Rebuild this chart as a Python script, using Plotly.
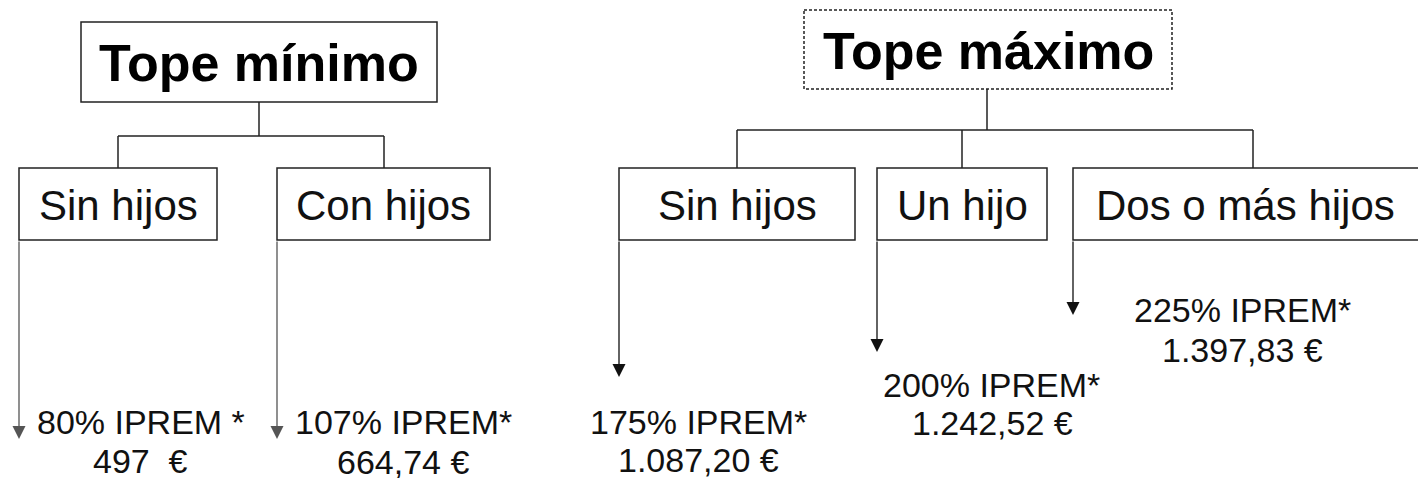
import plotly.graph_objects as go

# ---- content ----
group_titles = ["Tope mínimo", "Tope máximo"]
left_categories = ["Sin hijos", "Con hijos"]
right_categories = ["Sin hijos", "Un hijo", "Dos o más hijos"]
left_percent = ["80% IPREM *", "107% IPREM*"]
left_amount = ["497\u00a0 €", "664,74 €"]
right_percent = ["175% IPREM*", "200% IPREM*", "225% IPREM*"]
right_amount = ["1.087,20 €", "1.242,52 €", "1.397,83 €"]

# ---- layout geometry (pixel-like canvas) ----
W, H = 1418, 478
root_boxes = [(81, 22, 437, 102), (804, 10, 1172, 89)]
root_dash = ["solid", "3px,2px"]
child_top, child_bot = 168, 240
left_boxes_x = [(19, 217), (277, 490)]
right_boxes_x = [(619, 855), (877, 1047), (1073, 1433)]
bar_y = [136, 130]
stem_x = [259, 987]
left_child_cx = [118, 384]
right_child_cx = [737, 962, 1253]
left_tip_y = [439, 439]
right_tip_y = [377, 352, 315]
left_pct_pos = [(141, 422), (403, 422)]
left_amt_pos = [(140, 461), (403, 462)]
right_pct_pos = [(698, 422), (991, 385), (1242, 310)]
right_amt_pos = [(698, 460), (992, 423), (1242, 350)]

FONT = "Liberation Sans, Arial, sans-serif"
INK = "#111111"
LINE = "#222222"

fig = go.Figure()
shapes = []
ann = []

# root boxes + titles
for (x0, y0, x1, y1), dash, title in zip(root_boxes, root_dash, group_titles):
    shapes.append(dict(type="rect", xref="x", yref="y", x0=x0, y0=y0, x1=x1, y1=y1,
                       line=dict(color=LINE, width=1.5, dash=dash)))
    ann.append(dict(x=(x0 + x1) / 2, y=(y0 + y1) / 2 + 1, text=f"<b>{title}</b>",
                    showarrow=False, xanchor="center", yanchor="middle",
                    font=dict(family=FONT, size=52, color="#000")))

def tree(root, sx, by, cxs):
    x0, y0, x1, y1 = root
    shapes.append(dict(type="line", x0=sx, x1=sx, y0=y1, y1=by, line=dict(color=LINE, width=1.5)))
    shapes.append(dict(type="line", x0=min(cxs), x1=max(cxs), y0=by, y1=by, line=dict(color=LINE, width=1.5)))
    for c in cxs:
        shapes.append(dict(type="line", x0=c, x1=c, y0=by, y1=child_top, line=dict(color=LINE, width=1.5)))

tree(root_boxes[0], stem_x[0], bar_y[0], left_child_cx)
tree(root_boxes[1], stem_x[1], bar_y[1], right_child_cx)

def children(boxes, cats, tips, pct, pct_pos, amt, amt_pos, arrow_color):
    for (bx0, bx1), cat, tip, p, pp, a, ap in zip(boxes, cats, tips, pct, pct_pos, amt, amt_pos):
        shapes.append(dict(type="rect", x0=bx0, x1=bx1, y0=child_top, y1=child_bot,
                           line=dict(color=LINE, width=1.5)))
        tx = (bx0 + bx1) / 2 if bx1 <= W else (bx0 + bx1) / 2 - 8
        ann.append(dict(x=tx, y=(child_top + child_bot) / 2 + 1, text=cat, showarrow=False,
                        xanchor="center", yanchor="middle",
                        font=dict(family=FONT, size=42, color=INK)))
        ann.append(dict(x=bx0, y=tip, ax=bx0, ay=child_bot, axref="x", ayref="y",
                        xref="x", yref="y", text="", showarrow=True, arrowhead=2,
                        arrowsize=2.0, arrowwidth=1.3, arrowcolor=arrow_color))
        ann.append(dict(x=pp[0], y=pp[1], text=p, showarrow=False, xanchor="center",
                        yanchor="middle", font=dict(family=FONT, size=34, color=INK)))
        ann.append(dict(x=ap[0], y=ap[1], text=a, showarrow=False, xanchor="center",
                        yanchor="middle", font=dict(family=FONT, size=34, color=INK)))

children(left_boxes_x, left_categories, left_tip_y, left_percent, left_pct_pos,
         left_amount, left_amt_pos, "#555555")
children(right_boxes_x, right_categories, right_tip_y, right_percent, right_pct_pos,
         right_amount, right_amt_pos, "#111111")

fig.update_layout(
    width=W, height=H,
    margin=dict(l=0, r=0, t=0, b=0),
    paper_bgcolor="white", plot_bgcolor="white",
    xaxis=dict(range=[0, W], visible=False, fixedrange=True),
    yaxis=dict(range=[H, 0], visible=False, fixedrange=True),
    shapes=shapes, annotations=ann, showlegend=False,
)

fig.write_html(
    "out.html",
    config={"displayModeBar": False},
    post_script="document.body.style.margin='0';document.body.style.overflow='hidden';",
)
